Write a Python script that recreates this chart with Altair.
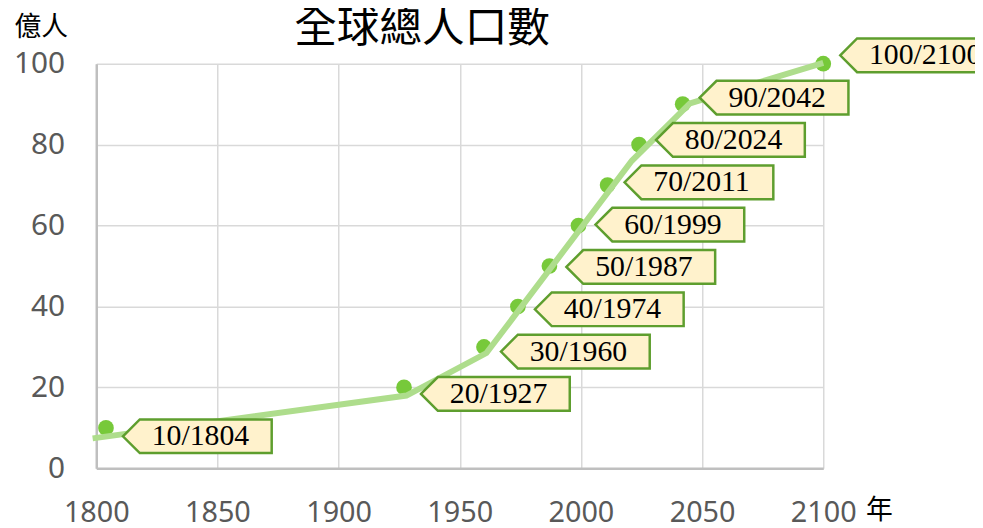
import altair as alt
import pandas as pd

# Milestones: world population (億人) reached in year
years = [1804, 1927, 1960, 1974, 1987, 1999, 2011, 2024, 2042, 2100]
population = [10, 20, 30, 40, 50, 60, 70, 80, 90, 100]
labels = [f"{p}/{y}" for p, y in zip(population, years)]

# Trend line (light green)
trend_years = [1798.5, 1928, 1961, 2021, 2045, 2100]
trend_values = [7.4, 18.0, 28.5, 76.0, 90.2, 100.2]

x_ticks = [1800, 1850, 1900, 1950, 2000, 2050, 2100]
y_ticks = [0, 20, 40, 60, 80, 100]

pts = pd.DataFrame({"year": years, "pop": population, "label": labels})
trend = pd.DataFrame({"year": trend_years, "pop": trend_values})

W, H = 733, 408
PAD = {"left": 89, "top": 54, "right": 153, "bottom": 58}

LABEL_FONT = "Noto Sans"
GRAY = "#595959"

x_scale = alt.Scale(domain=[1800, 2100], nice=False, zero=False)
y_scale = alt.Scale(domain=[0, 100], nice=False)

x_axis = alt.Axis(
    values=x_ticks, format="d", ticks=False, labelPadding=31,
    labelFont=LABEL_FONT, labelFontSize=29, labelColor=GRAY,
    domainColor="#bfbfbf", domainWidth=2.5,
    gridColor="#d9d9d9", gridWidth=1.5,
    title="年", titleFont="Noto Sans CJK TC", titleFontSize=27,
    titleFontWeight="normal", titleColor="black",
    titleX=789, titleY=43, titleAlign="center", titleBaseline="middle",
    labelFlush=False, labelOverlap=False,
)
y_axis = alt.Axis(
    values=y_ticks, ticks=False, labelPadding=32,
    labelFont=LABEL_FONT, labelFontSize=30, labelColor=GRAY,
    domainColor="#bfbfbf", domainWidth=2.5,
    gridColor="#d9d9d9", gridWidth=1.5,
    title="億人", titleFont="Noto Sans CJK TC", titleFontSize=27,
    titleFontWeight="normal", titleColor="black", titleAngle=0,
    titleX=-56, titleY=-36, titleAlign="center", titleBaseline="middle",
    labelFlush=False, labelOverlap=False,
)

X = alt.X("year:Q", scale=x_scale, axis=x_axis)
Y = alt.Y("pop:Q", scale=y_scale, axis=y_axis)

dots = alt.Chart(pts).mark_circle(size=250, color="#77C93A", opacity=1).encode(x=X, y=Y)

line = alt.Chart(trend).mark_line(color="#AEDD8C", strokeWidth=6).encode(
    x=alt.X("year:Q", scale=x_scale), y=alt.Y("pop:Q", scale=y_scale)
)

short_path = "M0,0 L1.7,-1.7 L15,-1.7 L15,1.7 L1.7,1.7 Z"
long_path = "M0,0 L1.7,-1.7 L16.8,-1.7 L16.8,1.7 L1.7,1.7 Z"

lab_base = alt.Chart(pts).transform_calculate(
    lx="datum.year + 7",
    ly="datum.pop + (datum.pop - 55) * 0.046",
)

callouts = lab_base.mark_point(
    filled=True, fill="#FFF2CC", stroke="#5E9E2E", strokeWidth=2.5,
    size=400, opacity=1, fillOpacity=1, strokeOpacity=1, strokeJoin="miter",
).encode(
    x=alt.X("lx:Q", scale=x_scale),
    y=alt.Y("ly:Q", scale=y_scale),
    shape=alt.condition("datum.pop >= 100", alt.value(long_path), alt.value(short_path)),
)

texts = lab_base.mark_text(
    align="left", baseline="middle", dx=29, font="Liberation Serif",
    fontSize=30, color="black",
).encode(
    x=alt.X("lx:Q", scale=x_scale),
    y=alt.Y("ly:Q", scale=y_scale),
    text="label:N",
)

chart = (
    alt.layer(dots, line, callouts, texts)
    .properties(
        width=W, height=H,
        autosize=alt.AutoSizeParams(type="none"),
        padding=PAD,
        title=alt.TitleParams(
            "全球總人口數", font="Noto Sans CJK TC", fontSize=43,
            fontWeight="normal", color="black", anchor="middle",
            dx=-38, offset=-37, frame="group",
        ),
    )
    .configure_view(stroke=None)
)

chart.save("out.html", embed_options={"renderer": "svg", "actions": False})
